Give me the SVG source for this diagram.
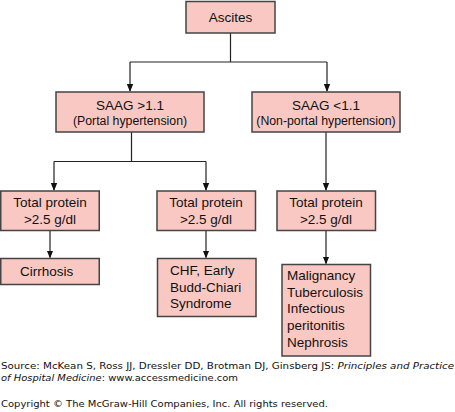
<svg xmlns="http://www.w3.org/2000/svg" width="455" height="412" viewBox="0 0 455 412">
<style>
.box{fill:#F9C8C3;stroke:#444;stroke-width:1.5}
.t{font-family:"Liberation Sans",Arial,sans-serif;font-size:13.5px;fill:#111}
.s{font-family:"Liberation Sans",Arial,sans-serif;font-size:12.3px;fill:#111}
.c{text-anchor:middle}
.f{font-family:"DejaVu Sans",Verdana,sans-serif;font-size:8.6px;fill:#111}
.ln{fill:none;stroke:#222;stroke-width:1.2}
</style>
<defs>
<marker id="ah" markerWidth="8" markerHeight="8" refX="7" refY="4" orient="auto" markerUnits="userSpaceOnUse">
<path d="M0,0.8 L8,4 L0,7.2 Z" fill="#111"/>
</marker>
</defs>
<rect width="455" height="412" fill="#fff"/>
<g id="connectors">
<path class="ln" d="M230.5,33 V62 M130,62 H327"/>
<path class="ln" d="M130,62 V91" marker-end="url(#ah)"/>
<path class="ln" d="M327,62 V91" marker-end="url(#ah)"/>
<path class="ln" d="M131.5,132 V161.5 M54,161.5 H206"/>
<path class="ln" d="M54,161.5 V190" marker-end="url(#ah)"/>
<path class="ln" d="M206,161.5 V190" marker-end="url(#ah)"/>
<path class="ln" d="M326,132 V190" marker-end="url(#ah)"/>
<path class="ln" d="M50,231 V257.5" marker-end="url(#ah)"/>
<path class="ln" d="M206,231 V257.5" marker-end="url(#ah)"/>
<path class="ln" d="M326,231 V263.5" marker-end="url(#ah)"/>
</g>
<g id="ascites">
<rect class="box" x="186" y="1.5" width="89" height="31.5"/>
<text class="t c" x="230.5" y="22">Ascites</text>
</g>
<g id="saag-high">
<rect class="box" x="56" y="92" width="148" height="40"/>
<text class="t c" x="130" y="110">SAAG &gt;1.1</text>
<text class="s c" x="130" y="124.5">(Portal hypertension)</text>
</g>
<g id="saag-low">
<rect class="box" x="252" y="92" width="148" height="40"/>
<text class="t c" x="326" y="110">SAAG &lt;1.1</text>
<text class="s c" x="326" y="124.5">(Non-portal hypertension)</text>
</g>
<g id="tp1">
<rect class="box" x="0.75" y="191" width="98.5" height="39.5"/>
<text class="t c" x="50" y="207">Total protein</text>
<text class="t c" x="50" y="223.5">&gt;2.5 g/dl</text>
</g>
<g id="tp2">
<rect class="box" x="157" y="191" width="98.5" height="39.5"/>
<text class="t c" x="206" y="207">Total protein</text>
<text class="t c" x="206" y="223.5">&gt;2.5 g/dl</text>
</g>
<g id="tp3">
<rect class="box" x="277" y="191" width="98.5" height="39.5"/>
<text class="t c" x="326" y="207">Total protein</text>
<text class="t c" x="326" y="223.5">&gt;2.5 g/dl</text>
</g>
<g id="cirrhosis">
<rect class="box" x="0.75" y="258.5" width="98.5" height="26"/>
<text class="t" x="20" y="276">Cirrhosis</text>
</g>
<g id="chf">
<rect class="box" x="157.5" y="258.5" width="98.5" height="58"/>
<text class="t" x="170" y="275">CHF, Early</text>
<text class="t" x="170" y="291.5">Budd-Chiari</text>
<text class="t" x="170" y="308">Syndrome</text>
</g>
<g id="malignancy">
<rect class="box" x="282" y="264.5" width="88.5" height="91.5"/>
<text class="t" x="287" y="280">Malignancy</text>
<text class="t" x="287" y="296.7">Tuberculosis</text>
<text class="t" x="287" y="313.4">Infectious</text>
<text class="t" x="287" y="330.1">peritonitis</text>
<text class="t" x="287" y="346.8">Nephrosis</text>
</g>
<g id="footer">
<text class="f" x="1" y="369" textLength="453" lengthAdjust="spacingAndGlyphs">Source: McKean S, Ross JJ, Dressler DD, Brotman DJ, Ginsberg JS: <tspan font-style="italic">Principles and Practice</tspan></text>
<text class="f" x="1" y="380.5" textLength="237" lengthAdjust="spacingAndGlyphs"><tspan font-style="italic">of Hospital Medicine</tspan>: www.accessmedicine.com</text>
<text class="f" x="1" y="407" textLength="327" lengthAdjust="spacingAndGlyphs">Copyright © The McGraw-Hill Companies, Inc. All rights reserved.</text>
</g>
</svg>
